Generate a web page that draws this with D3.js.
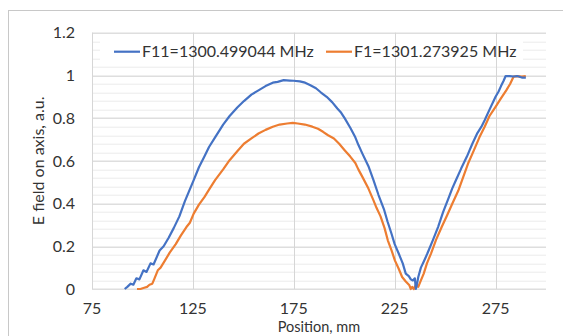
<!DOCTYPE html>
<html>
<head>
<meta charset="utf-8">
<script src="https://cdn.jsdelivr.net/npm/d3@7"></script>
<style>
  body { margin: 0; background: #fff; }
  text { font-family: Lato, "Open Sans", sans-serif; fill: #333; }
</style>
</head>
<body>
<div id="container"></div>
<script>
// series (position mm, field a.u.)
var blueX = [91.2, 92.5, 94.2, 95.5, 97, 98.5, 100.5, 102, 104, 105.5, 108.5, 110.5, 113, 115.5, 118.3, 121, 125.4, 128, 130.7, 133, 136, 140, 143.2, 147, 150.3, 154, 157.5, 161, 164.6, 167, 170, 173, 175, 178, 180.6, 183, 186, 188.5, 191.3, 194, 196.6, 198.5, 200.2, 203, 205.5, 207, 209, 212, 214.5, 217, 219.8, 221.5, 223.4, 225, 227, 229, 230.5, 232, 233, 234, 235, 235.5, 236.2, 236.7, 238, 239.5, 241.2, 244, 246.5, 249, 251.9, 253.5, 255.4, 258, 260.8, 263.5, 266, 268, 269.6, 272, 275, 276.5, 277.7, 279, 280, 282, 284, 285.7, 288, 290];
var blueY = [0, 0.01, 0.025, 0.02, 0.05, 0.045, 0.0875, 0.08, 0.12, 0.115, 0.18, 0.2, 0.24, 0.285, 0.34, 0.41, 0.51, 0.57, 0.62, 0.665, 0.71, 0.77, 0.81, 0.85, 0.88, 0.91, 0.93, 0.95, 0.966, 0.97, 0.978, 0.976, 0.975, 0.972, 0.966, 0.955, 0.94, 0.92, 0.9, 0.875, 0.845, 0.825, 0.8, 0.755, 0.71, 0.675, 0.634, 0.575, 0.51, 0.44, 0.37, 0.315, 0.26, 0.21, 0.166, 0.12, 0.072, 0.06, 0.045, 0.04, 0.05, 0, 0.03, 0.056, 0.1, 0.13, 0.166, 0.23, 0.29, 0.36, 0.43, 0.47, 0.51, 0.565, 0.62, 0.68, 0.73, 0.76, 0.79, 0.84, 0.9, 0.925, 0.95, 0.975, 0.997, 0.997, 0.995, 0.997, 0.99, 0.99];

var orangeX = [97.3, 99, 100.5, 102.3, 103.5, 104.9, 106, 107.6, 109, 111.2, 113.5, 116.5, 119, 121.8, 123.5, 125.4, 128, 130.7, 133, 136, 140, 143.2, 147, 150.3, 154, 157.5, 161, 164.6, 168, 171.7, 174.5, 177, 180.5, 184.2, 187, 189.5, 192, 194.9, 197.5, 200.2, 203, 205.5, 207, 209, 212, 214.5, 216, 218, 220, 221.6, 223.5, 225.1, 227, 228.7, 230.5, 232.3, 233, 233.7, 234.5, 235.5, 236.7, 238, 239.4, 241, 243, 245.5, 248.3, 251, 253.6, 256.5, 259, 261.5, 264.3, 267, 269.6, 272, 275, 277.5, 280.3, 282.2, 283.9, 286, 288, 290];
var orangeY = [0, 0, 0.005, 0.01, 0.02, 0.025, 0.05, 0.0875, 0.1, 0.134, 0.17, 0.21, 0.25, 0.29, 0.31, 0.353, 0.395, 0.43, 0.465, 0.51, 0.56, 0.603, 0.645, 0.68, 0.705, 0.728, 0.745, 0.76, 0.77, 0.775, 0.778, 0.775, 0.77, 0.76, 0.75, 0.736, 0.72, 0.705, 0.68, 0.65, 0.62, 0.59, 0.56, 0.525, 0.47, 0.415, 0.38, 0.34, 0.285, 0.228, 0.18, 0.134, 0.095, 0.056, 0.035, 0.017, 0, 0.01, 0, 0.02, 0.01, 0.04, 0.072, 0.12, 0.166, 0.23, 0.29, 0.345, 0.4, 0.46, 0.525, 0.59, 0.65, 0.71, 0.76, 0.81, 0.853, 0.89, 0.93, 0.96, 0.994, 0.997, 0.994, 0.997];

var seriesNames = ["F11=1300.499044 MHz", "F1=1301.273925 MHz"];
var seriesColors = ["#4472C4", "#ED7D31"];
var xTicks = [75, 125, 175, 225, 275];
var yTicks = [0, 0.2, 0.4, 0.6, 0.8, 1, 1.2];

var W = 563, H = 336;
var margin = { top: 32.7, right: 17, bottom: 47, left: 92 };
var width = W - margin.left - margin.right;
var height = H - margin.top - margin.bottom;
var fs = "16px";

var x = d3.scaleLinear().domain([75, 300]).range([0, width]);
var y = d3.scaleLinear().domain([0, 1.2]).range([height, 0]);

var root = d3.select("#container").append("svg")
    .attr("width", W).attr("height", H);

// chart area frame
root.append("rect")
    .attr("x", 8.5).attr("y", 10.5)
    .attr("width", W).attr("height", H)
    .attr("fill", "none").attr("stroke", "#c8c8c8");

var svg = root.append("g")
    .attr("transform", "translate(" + margin.left + "," + margin.top + ")");

// minor horizontal grid
svg.append("g")
    .selectAll("line")
    .data(d3.range(0, 31).map(function (i) { return i * 0.04; }))
    .enter().append("line")
    .attr("x1", 0).attr("x2", width)
    .attr("y1", function (d) { return Math.round(y(d)) + 0.5; })
    .attr("y2", function (d) { return Math.round(y(d)) + 0.5; })
    .attr("stroke", "#ebebeb");

// legend background
svg.append("rect")
    .attr("x", 8).attr("y", 4)
    .attr("width", 423).attr("height", 29)
    .attr("fill", "#fff");

// major grid
svg.append("g")
    .selectAll("line")
    .data(yTicks)
    .enter().append("line")
    .attr("x1", 0).attr("x2", width)
    .attr("y1", function (d) { return Math.round(y(d)) + 0.5; })
    .attr("y2", function (d) { return Math.round(y(d)) + 0.5; })
    .attr("stroke", "#d6d6d6");

svg.append("g")
    .selectAll("line")
    .data(xTicks)
    .enter().append("line")
    .attr("y1", 0).attr("y2", height)
    .attr("x1", function (d) { return Math.round(x(d)) + 0.5; })
    .attr("x2", function (d) { return Math.round(x(d)) + 0.5; })
    .attr("stroke", "#d6d6d6");

// axes labels
svg.append("g")
    .selectAll("text")
    .data(yTicks)
    .enter().append("text")
    .attr("x", -17)
    .attr("y", function (d) { return y(d); })
    .attr("dy", "0.36em")
    .attr("text-anchor", "end")
    .style("font-size", fs)
    .text(function (d) { return d3.format("~g")(d); });

svg.append("g")
    .selectAll("text")
    .data(xTicks)
    .enter().append("text")
    .attr("x", function (d) { return x(d); })
    .attr("y", height + 25.3)
    .attr("text-anchor", "middle")
    .style("font-size", fs)
    .text(function (d) { return d; });

svg.append("text")
    .attr("x", width / 2)
    .attr("y", height + 43.5)
    .attr("text-anchor", "middle")
    .style("font-size", "14.5px")
    .text("Position, mm");

svg.append("text")
    .attr("transform", "translate(" + (38.5 - margin.left) + "," + (height / 2) + ")rotate(-90)")
    .attr("dy", "0.36em")
    .attr("text-anchor", "middle")
    .style("font-size", fs)
    .text("E field on axis, a.u.");

// series lines
var line = d3.line()
    .x(function (d) { return x(d[0]); })
    .y(function (d) { return y(d[1]); });

var series = [d3.zip(blueX, blueY), d3.zip(orangeX, orangeY)];

svg.selectAll("path.series")
    .data([series[1], series[0]])
    .enter().append("path")
    .attr("class", "series")
    .attr("d", line)
    .attr("fill", "none")
    .attr("stroke", function (d, i) { return seriesColors[1 - i]; })
    .attr("stroke-width", 2.2)
    .attr("stroke-linejoin", "round");

// legend
var legX = [22, 234];
var leg = svg.append("g").selectAll("g")
    .data(seriesNames)
    .enter().append("g")
    .attr("transform", function (d, i) { return "translate(" + legX[i] + ",19)"; });

leg.append("line")
    .attr("x1", 0).attr("x2", 26)
    .attr("stroke", function (d, i) { return seriesColors[i]; })
    .attr("stroke-width", 2.2);

leg.append("text")
    .attr("x", 28)
    .attr("dy", "0.36em")
    .style("font-size", fs)
    .text(function (d) { return d; });
</script>
</body>
</html>
